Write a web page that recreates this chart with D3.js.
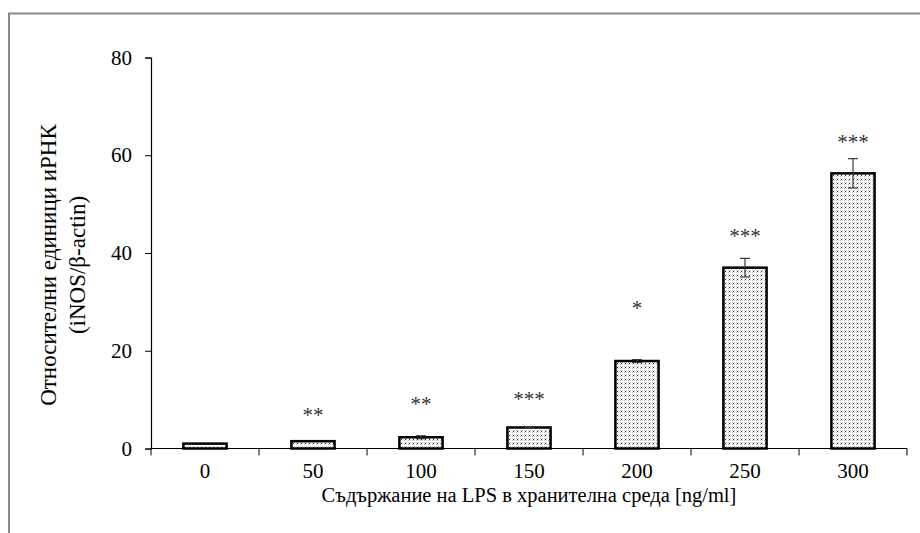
<!DOCTYPE html>
<html>
<head>
<meta charset="utf-8">
<script src="https://cdn.jsdelivr.net/npm/d3@7"></script>
<style>
  body { margin: 0; background: #fff; }
</style>
</head>
<body>
<div id="chart"></div>
<script>
// LPS concentration (ng/ml)
var categories = ["0", "50", "100", "150", "200", "250", "300"];
// relative iNOS/β-actin mRNA
var values = [1.0, 1.5, 2.3, 4.3, 17.9, 37.0, 56.3];
var errors = [0, 0, 0.3, 0.1, 0.3, 1.9, 3.0];
var stars = ["", "**", "**", "***", "*", "***", "***"];
var starLevels = [0, 7.4, 9.8, 10.8, 29.3, 44, 63.3];
var yTicks = [0, 20, 40, 60, 80];

var FONT = "'Liberation Serif', 'Times New Roman', serif";
var W = 920, H = 533;
var svg = d3.select("#chart").append("svg")
            .attr("width", W)
            .attr("height", H)
            .attr("font-family", FONT);

// dotted fill like the office chart pattern
var defs = svg.append("defs");
var pat = defs.append("pattern")
              .attr("id", "dots")
              .attr("patternUnits", "userSpaceOnUse")
              .attr("width", 4)
              .attr("height", 4);
pat.append("rect").attr("width", 4).attr("height", 4).attr("fill", "#fff");
pat.append("rect").attr("x", 0).attr("y", 0).attr("width", 1).attr("height", 1).attr("fill", "#bdbdbd");
pat.append("rect").attr("x", 2).attr("y", 2).attr("width", 1).attr("height", 1).attr("fill", "#bdbdbd");
pat.append("rect").attr("x", 2).attr("y", 0).attr("width", 1).attr("height", 1).attr("fill", "#d6d6d6");
pat.append("rect").attr("x", 0).attr("y", 2).attr("width", 1).attr("height", 1).attr("fill", "#d6d6d6");
pat.append("rect").attr("x", 1).attr("y", 3).attr("width", 1).attr("height", 1).attr("fill", "#222");

// outer frame (runs off the right and bottom)
svg.append("rect")
   .attr("x", 9)
   .attr("y", 13.5)
   .attr("width", 1200)
   .attr("height", 1200)
   .attr("fill", "none")
   .attr("stroke", "#888")
   .attr("stroke-width", 2);

var x = d3.scaleBand()
          .domain(categories)
          .range([151, 907])
          .paddingInner(0.6)
          .paddingOuter(0.3);

var y = d3.scaleLinear()
          .domain([0, 80])
          .range([448.5, 57.5]);

// y axis
var yAxis = svg.append("g")
               .attr("transform", "translate(151,0)")
               .call(d3.axisLeft(y).tickValues(yTicks).tickSize(6).tickPadding(13));
yAxis.select(".domain").attr("stroke", "#000").attr("stroke-width", 1.2);
yAxis.selectAll(".tick line").attr("stroke", "#000");
yAxis.selectAll(".tick text")
     .attr("font-family", FONT)
     .style("font-family", FONT)
     .style("font-size", "21px");

// x axis: ticks sit between the bars
var step = x.step();
var bounds = d3.range(categories.length + 1);
svg.append("line")
   .attr("x1", x.range()[0])
   .attr("x2", x.range()[1])
   .attr("y1", y(0))
   .attr("y2", y(0))
   .attr("stroke", "#000")
   .attr("stroke-width", 1.2);
svg.selectAll(".xtick")
   .data(bounds)
   .enter().append("line")
   .attr("class", "xtick")
   .attr("x1", function (i) { return x.range()[0] + i * step; })
   .attr("x2", function (i) { return x.range()[0] + i * step; })
   .attr("y1", y(0))
   .attr("y2", y(0) + 7)
   .attr("stroke", "#000");
svg.selectAll(".xlabel")
   .data(categories)
   .enter().append("text")
   .attr("class", "xlabel")
   .attr("x", function (c) { return x(c) + x.bandwidth() / 2; })
   .attr("y", y(0) + 29)
   .attr("text-anchor", "middle")
   .style("font-family", FONT)
   .style("font-size", "21px")
   .text(function (c) { return c; });

// bars
svg.selectAll(".bar")
   .data(values)
   .enter().append("rect")
   .attr("class", "bar")
   .attr("x", function (v, i) { return x(categories[i]); })
   .attr("width", x.bandwidth())
   .attr("y", function (v) { return y(v); })
   .attr("height", function (v) { return y(0) - y(v); })
   .attr("fill", "url(#dots)")
   .attr("stroke", "#000")
   .attr("stroke-width", 2.5);

// error bars
var errData = values.map(function (v, i) { return { cat: categories[i], v: v, e: errors[i] }; })
                    .filter(function (d) { return d.e > 0; });
var eb = svg.selectAll(".err")
            .data(errData)
            .enter().append("g")
            .attr("class", "err")
            .attr("stroke", "#3a3a3a")
            .attr("stroke-width", 1.2);
eb.each(function (d) {
  var g = d3.select(this);
  var cx = x(d.cat) + x.bandwidth() / 2;
  g.append("line").attr("x1", cx).attr("x2", cx).attr("y1", y(d.v - d.e)).attr("y2", y(d.v + d.e));
  g.append("line").attr("x1", cx - 5).attr("x2", cx + 5).attr("y1", y(d.v + d.e)).attr("y2", y(d.v + d.e));
  g.append("line").attr("x1", cx - 5).attr("x2", cx + 5).attr("y1", y(d.v - d.e)).attr("y2", y(d.v - d.e));
});

// significance marks
svg.selectAll(".star")
   .data(stars)
   .enter().append("text")
   .attr("class", "star")
   .attr("x", function (s, i) { return x(categories[i]) + x.bandwidth() / 2; })
   .attr("y", function (s, i) { return y(starLevels[i]) + 10; })
   .attr("text-anchor", "middle")
   .style("font-family", FONT)
   .style("font-size", "21px")
   .style("fill", "#333")
   .text(function (s) { return s; });

// axis titles
svg.append("text")
   .attr("x", 529)
   .attr("y", 502)
   .attr("text-anchor", "middle")
   .style("font-family", FONT)
   .style("font-size", "20.5px")
   .text("Съдържание на LPS в хранителна среда [ng/ml]");

var yt = svg.append("text")
            .attr("transform", "translate(56,265) rotate(-90)")
            .attr("text-anchor", "middle")
            .style("font-family", FONT)
            .style("font-size", "23px");
yt.append("tspan").attr("x", 0).attr("dy", 0).text("Относителни единици иРНК");
yt.append("tspan").attr("x", 0).attr("dy", 29).text("(iNOS/β-actin)");
</script>
</body>
</html>
